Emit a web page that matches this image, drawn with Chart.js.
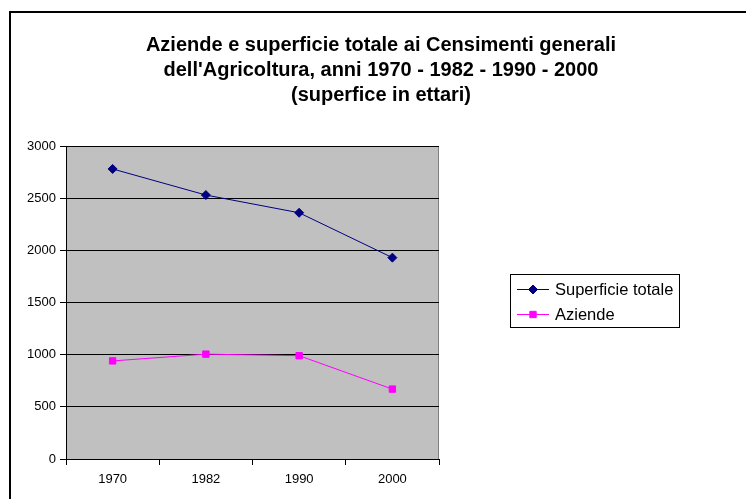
<!DOCTYPE html>
<html>
<head>
<meta charset="utf-8">
<script src="https://cdn.jsdelivr.net/npm/chart.js@4.4.1/dist/chart.umd.min.js"></script>
<style>
  html, body { margin: 0; padding: 0; background: #fff; overflow: hidden; }
  #frame { position: absolute; left: 9px; top: 11px; width: 800px; height: 600px; border: 2px solid #000; }
  #wrap { position: absolute; left: 0; top: 0; width: 746px; height: 499px; }
</style>
</head>
<body>
<div id="frame"></div>
<div id="wrap"><canvas id="chart"></canvas></div>
<script>
  const years = ['1970', '1982', '1990', '2000'];
  const superficieTotale = [2780, 2530, 2360, 1930];
  const aziende = [940, 1005, 990, 670];
  const titleLines = [
    'Aziende e superficie totale ai Censimenti generali',
    "dell'Agricoltura, anni 1970 - 1982 - 1990 - 2000",
    '(superfice in ettari)'
  ];

  const FONT = "'Liberation Sans', Arial, sans-serif";

  // gray plot background like the old spreadsheet charts
  const plotBackground = {
    id: 'plotBackground',
    beforeDraw(chart) {
      const { ctx, chartArea: a } = chart;
      ctx.save();
      ctx.fillStyle = '#c0c0c0';
      ctx.fillRect(a.left, a.top, a.right - a.left, a.bottom - a.top);
      ctx.strokeStyle = '#808080';
      ctx.lineWidth = 1;
      ctx.beginPath();
      ctx.moveTo(a.left, a.top + 0.5);
      ctx.lineTo(a.right - 0.5, a.top + 0.5);
      ctx.lineTo(a.right - 0.5, a.bottom);
      ctx.stroke();
      ctx.restore();
    }
  };

  // title centred on the whole frame, not on the plot
  const frameTitle = {
    id: 'frameTitle',
    afterDraw(chart) {
      const ctx = chart.ctx;
      ctx.save();
      ctx.fillStyle = '#000';
      ctx.font = 'bold 20px ' + FONT;
      ctx.textAlign = 'center';
      ctx.textBaseline = 'middle';
      titleLines.forEach((line, i) => ctx.fillText(line, 381, 45 + i * 25));
      ctx.restore();
    }
  };

  // legend box on the right
  const boxLegend = {
    id: 'boxLegend',
    afterDraw(chart) {
      const ctx = chart.ctx;
      ctx.save();
      ctx.strokeStyle = '#000';
      ctx.lineWidth = 1;
      ctx.strokeRect(510.5, 274.5, 169, 53);
      chart.data.datasets.forEach((ds, i) => {
        const y = 289 + i * 25;
        ctx.strokeStyle = ds.borderColor;
        ctx.lineWidth = 1;
        ctx.beginPath();
        ctx.moveTo(517, y + 0.5);
        ctx.lineTo(549, y + 0.5);
        ctx.stroke();
        ctx.fillStyle = ds.borderColor;
        Chart.helpers.drawPoint(ctx, {
          pointStyle: ds.pointStyle,
          radius: ds.pointRadius,
          borderWidth: 1
        }, 533, y + 0.5);
        ctx.fillStyle = '#000';
        ctx.font = '16.5px ' + FONT;
        ctx.textBaseline = 'middle';
        ctx.textAlign = 'left';
        ctx.fillText(ds.label, 555, y + 1);
      });
      ctx.restore();
    }
  };

  new Chart(document.getElementById('chart'), {
    type: 'line',
    data: {
      labels: years,
      datasets: [
        {
          label: 'Superficie totale',
          data: superficieTotale,
          borderColor: '#000080',
          backgroundColor: '#000080',
          borderWidth: 1,
          pointStyle: 'rectRot',
          pointRadius: 4.5,
          pointBorderWidth: 1
        },
        {
          label: 'Aziende',
          data: aziende,
          borderColor: '#ff00ff',
          backgroundColor: '#ff00ff',
          borderWidth: 1,
          pointStyle: 'rect',
          pointRadius: 4.5,
          pointBorderWidth: 1
        }
      ]
    },
    options: {
      responsive: true,
      maintainAspectRatio: false,
      animation: false,
      layout: { padding: { left: 0, right: 307, top: 146, bottom: 0 } },
      plugins: {
        legend: { display: false },
        tooltip: { enabled: false },
        title: { display: false }
      },
      scales: {
        x: {
          offset: true,
          grid: { offset: true, drawOnChartArea: false, drawTicks: true, tickLength: 6, color: '#000' },
          border: { color: '#000', width: 1 },
          ticks: { color: '#000', font: { family: FONT, size: 13 }, padding: 7, maxRotation: 0 },
          afterFit(scale) { scale.height = 40; }
        },
        y: {
          min: 0,
          max: 3000,
          grid: { color: '#000', lineWidth: 1, tickLength: 6 },
          border: { color: '#000', width: 1 },
          ticks: {
            stepSize: 500,
            color: '#000',
            font: { family: FONT, size: 13 },
            padding: 4,
            callback: v => String(v)
          },
          afterFit(scale) { scale.width = 66; }
        }
      }
    },
    plugins: [plotBackground, frameTitle, boxLegend]
  });
</script>
</body>
</html>
